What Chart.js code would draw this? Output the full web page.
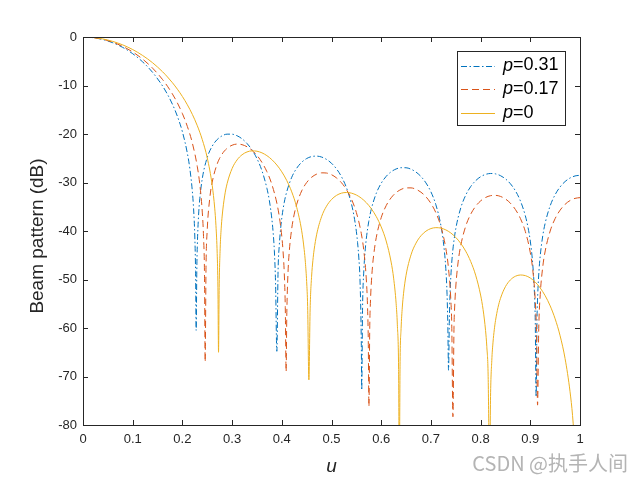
<!DOCTYPE html>
<html>
<head>
<meta charset="utf-8">
<title>Beam pattern</title>
<script src="https://cdn.jsdelivr.net/npm/chart.js@4.4.1/dist/chart.umd.min.js"></script>
<style>
  html, body { margin: 0; padding: 0; background: #fff; }
  #wrap { width: 642px; height: 481px; }
</style>
</head>
<body>
<div id="wrap"><canvas id="beamChart" width="642" height="481"></canvas></div>
<script>
// u positions shared by the three curves
const uGrid = [0, 0.02, 0.04, 0.06, 0.08, 0.10, 0.12, 0.14, 0.16,
  0.17, 0.18, 0.19, 0.20,
  0.21, 0.22, 0.23, 0.24, 0.25, 0.26, 0.27, 0.28, 0.29, 0.30,
  0.31, 0.32, 0.33, 0.34, 0.35, 0.36, 0.37, 0.38, 0.39, 0.40,
  0.41, 0.42, 0.43, 0.44, 0.45, 0.46, 0.47, 0.48, 0.49, 0.50,
  0.51, 0.52, 0.53, 0.54, 0.55, 0.56, 0.57, 0.58, 0.59, 0.60,
  0.61, 0.62, 0.63, 0.64, 0.65, 0.66, 0.67, 0.68, 0.69, 0.70,
  0.71, 0.72, 0.73, 0.74, 0.75, 0.76, 0.77, 0.78, 0.79, 0.80,
  0.81, 0.82, 0.83, 0.84, 0.85, 0.86, 0.87, 0.88, 0.89, 0.90,
  0.91, 0.92, 0.93, 0.94, 0.95, 0.96, 0.97, 0.98, 0.99, 1.00];

// p = 0.31
const db031 = [0, -0.13, -0.52, -1.19, -2.15, -3.45, -5.13, -7.29, -10.09,
  -11.83, -13.88, -16.37, -19.54,
  -23.99, -31.82, -43.05, -29.19, -24.84, -22.51, -21.14, -20.37, -20.03, -20.04,
  -20.36, -20.99, -21.95, -23.27, -25.07, -27.55, -31.17, -37.52, -64.8, -37.32,
  -31.89, -28.92, -27.05, -25.83, -25.06, -24.65, -24.56, -24.75, -25.24, -26.03,
  -27.19, -28.79, -31.04, -34.36, -40.07, -63.27, -41.63, -35.53, -32.26, -30.16,
  -28.74, -27.79, -27.21, -26.95, -26.96, -27.26, -27.85, -28.76, -30.08, -31.92,
  -34.59, -38.79, -47.76, -49.59, -39.57, -35.26, -32.63, -30.85, -29.63, -28.81,
  -28.33, -28.14, -28.22, -28.59, -29.25, -30.26, -31.71, -33.78, -36.85, -42.08,
  -58.79, -45.08, -38.35, -34.80, -32.50, -30.91, -29.80, -29.07, -28.65, -28.51];
// extra readings around the nulls
const nearU031 = [0.215, 0.2225, 0.225, 0.2265, 0.2277, 0.229, 0.2325, 0.235,
  0.375, 0.3825, 0.385, 0.3875, 0.3925, 0.395, 0.3975, 0.405,
  0.545, 0.5525, 0.555, 0.5575, 0.5608, 0.5625, 0.565, 0.5675, 0.575,
  0.725, 0.7325, 0.734, 0.7355, 0.737, 0.7385, 0.7425, 0.745,
  0.895, 0.905, 0.9075, 0.9117, 0.9135, 0.915, 0.9175, 0.925];
const nearDb031 = [-27.16, -35.39, -41.24, -48.35, -60.5, -47.96, -36.82, -33.35,
  -33.74, -40.21, -44.07, -51.00, -48.15, -42.86, -39.64, -34.06,
  -36.75, -42.40, -45.56, -50.54, -72.8, -55.88, -48.25, -44.30, -38.01,
  -42.17, -53.08, -59.15, -68.7, -59.04, -53.08, -45.76, -43.14,
  -39.06, -46.92, -50.97, -74.2, -58.23, -53.01, -48.16, -41.03];

// p = 0.17
const db017 = [0, -0.12, -0.47, -1.07, -1.94, -3.08, -4.56, -6.42, -8.76,
  -10.16, -11.76, -13.61, -15.79,
  -18.45, -21.86, -26.74, -36.10, -39.73, -29.92, -26.17, -24.12, -22.94, -22.31,
  -22.08, -22.20, -22.63, -23.36, -24.41, -25.85, -27.77, -30.39, -34.24, -41.12,
  -57.62, -39.48, -34.48, -31.73, -30.01, -28.92, -28.28, -28.01, -28.05, -28.39,
  -29.05, -30.04, -31.45, -33.40, -36.18, -40.55, -49.89, -50.96, -41.38, -37.25,
  -34.77, -33.15, -32.08, -31.43, -31.11, -31.11, -31.40, -32.00, -32.94, -34.31,
  -36.23, -39.04, -43.56, -54.05, -51.58, -43.01, -39.02, -36.56, -34.91, -33.80,
  -33.09, -32.72, -32.65, -32.87, -33.40, -34.27, -35.56, -37.40, -40.10, -44.47,
  -54.42, -53.11, -44.12, -40.00, -37.43, -35.70, -34.50, -33.72, -33.27, -33.12];
const nearU017 = [0.235, 0.2425, 0.2445, 0.2458, 0.2475, 0.255,
  0.395, 0.4025, 0.405, 0.407, 0.4087, 0.4125, 0.415, 0.425,
  0.565, 0.5725, 0.574, 0.5753, 0.577, 0.5785, 0.5825, 0.585,
  0.735, 0.742, 0.7443, 0.7465, 0.748, 0.755,
  0.905, 0.9125, 0.9146, 0.917, 0.925];
const nearDb017 = [-30.37, -41.15, -49.30, -67, -47.46, -33.29,
  -37.05, -44.17, -48.79, -55.74, -69, -48.55, -44.30, -36.53,
  -44.04, -55.58, -62.51, -76.2, -59.52, -54.21, -47.32, -44.82,
  -47.32, -59.61, -78.3, -59.66, -55.26, -46.21,
  -48.08, -61.27, -75.9, -60.12, -47.44];

// p = 0
const db0 = [0, -0.10, -0.40, -0.91, -1.63, -2.59, -3.81, -5.31, -7.16,
  -8.24, -9.43, -10.77, -12.27,
  -13.98, -15.95, -18.29, -21.16, -24.92, -30.61, -44.68, -36.92, -30.21, -27.12,
  -25.34, -24.28, -23.70, -23.48, -23.55, -23.88, -24.46, -25.29, -26.39, -27.80,
  -29.60, -31.93, -35.12, -39.95, -50.43, -49.30, -40.79, -37.06, -34.88, -33.51,
  -32.66, -32.20, -32.06, -32.19, -32.58, -33.23, -34.15, -35.39, -37.01, -39.15,
  -42.06, -46.41, -54.90, -60.14, -49.13, -44.91, -42.50, -40.98, -40.03, -39.50,
  -39.31, -39.40, -39.77, -40.40, -41.32, -42.55, -44.16, -46.27, -49.10, -53.20,
  -60.54, -74.12, -58.48, -53.89, -51.47, -50.08, -49.33, -49.07, -49.20, -49.69,
  -50.54, -51.75, -53.36, -55.44, -58.12, -61.61, -66.31, -73.15, -85.06, null];
const nearU0 = [0.265, 0.2675, 0.2715, 0.2727, 0.274, 0.276, 0.278, 0.285,
  0.445, 0.4475, 0.452, 0.4545, 0.457, 0.4625, 0.465,
  0.625, 0.6325, 0.635, 0.6364, 0.638, 0.6425, 0.645,
  0.805, 0.8125, 0.815, 0.8182, 0.8225, 0.825, 0.8275, 0.835,
  0.985];
const nearDb0 = [-35.28, -38.85, -51.72, -65, -51.62, -43.55, -39.56, -32.77,
  -43.80, -46.53, -55.58, -70.7, -56.06, -46.14, -43.90,
  -49.72, -59.35, -68.55, -90, -66.96, -55.69, -52.84,
  -56.20, -63.85, -69.03, -90, -66.73, -62.92, -60.37, -55.77,
  -78.02];

const pValues = ['0.31', '0.17', '0'];
const xTicks = [0, 0.1, 0.2, 0.3, 0.4, 0.5, 0.6, 0.7, 0.8, 0.9, 1];
const yTicks = [-80, -70, -60, -50, -40, -30, -20, -10, 0];

const axisColor = '#262626';
const fontName = '"Liberation Sans", Arial, Helvetica, sans-serif';

function toPoints(db, nearU, nearDb) {
  const pts = uGrid.map((u, i) => ({ x: u, y: db[i] }));
  nearU.forEach((u, i) => pts.push({ x: u, y: nearDb[i] }));
  return pts.sort((a, b) => a.x - b.x);
}

// box, inward ticks, legend and axis titles the way MATLAB draws them
const matlabAxes = {
  id: 'matlabAxes',
  afterDraw(chart) {
    const { ctx, chartArea: a, scales: { x, y } } = chart;
    ctx.save();
    ctx.strokeStyle = axisColor;
    ctx.lineWidth = 1;
    ctx.setLineDash([]);
    ctx.beginPath();
    xTicks.forEach(v => {
      const px = Math.round(x.getPixelForValue(v)) + 0.5;
      ctx.moveTo(px, a.bottom); ctx.lineTo(px, a.bottom - 5);
      ctx.moveTo(px, a.top); ctx.lineTo(px, a.top + 5);
    });
    yTicks.forEach(v => {
      const py = Math.round(y.getPixelForValue(v)) + 0.5;
      ctx.moveTo(a.left, py); ctx.lineTo(a.left + 5, py);
      ctx.moveTo(a.right, py); ctx.lineTo(a.right - 5, py);
    });
    ctx.stroke();
    ctx.strokeRect(Math.round(a.left) + 0.5, Math.round(a.top) + 0.5,
      Math.round(a.right - a.left), Math.round(a.bottom - a.top));

    // legend
    const lx = 457.5, ly = 51.5, lw = 108, lh = 74;
    ctx.fillStyle = '#fff';
    ctx.fillRect(lx, ly, lw, lh);
    ctx.strokeRect(lx, ly, lw, lh);
    ctx.textBaseline = 'middle';
    ctx.textAlign = 'left';
    chart.data.datasets.forEach((ds, i) => {
      const rowY = 65.5 + i * 23.8;
      ctx.strokeStyle = ds.borderColor;
      ctx.setLineDash(ds.borderDash || []);
      ctx.beginPath();
      ctx.moveTo(461, Math.round(rowY) + 0.5);
      ctx.lineTo(495, Math.round(rowY) + 0.5);
      ctx.stroke();
      ctx.setLineDash([]);
      ctx.fillStyle = '#000';
      ctx.font = 'italic 18px ' + fontName;
      ctx.fillText('p', 503, rowY);
      const w = ctx.measureText('p').width;
      ctx.font = '18px ' + fontName;
      ctx.fillText('=' + pValues[i], 503 + w, rowY);
    });

    // axis titles
    ctx.fillStyle = axisColor;
    ctx.textAlign = 'center';
    ctx.font = '19px ' + fontName;
    ctx.save();
    ctx.translate(38, 236);
    ctx.rotate(-Math.PI / 2);
    ctx.fillText('Beam pattern (dB)', 0, 0);
    ctx.restore();
    ctx.font = 'italic 19px ' + fontName;
    ctx.fillText('u', (a.left + a.right) / 2, 467);

    // watermark
    ctx.fillStyle = '#b4b4b4';
    ctx.textAlign = 'right';
    ctx.font = '20px "Noto Sans CJK SC", ' + fontName;
    ctx.fillText('CSDN @执手人间', 628, 463);
    ctx.restore();
  }
};

new Chart(document.getElementById('beamChart'), {
  type: 'line',
  data: {
    datasets: [
      {
        label: 'p=' + pValues[0],
        data: toPoints(db031, nearU031, nearDb031),
        borderColor: '#0072BD',
        borderDash: [6, 2.5, 1.5, 2.5],
        order: 2
      },
      {
        label: 'p=' + pValues[1],
        data: toPoints(db017, nearU017, nearDb017),
        borderColor: '#D95319',
        borderDash: [7, 4],
        order: 1
      },
      {
        label: 'p=' + pValues[2],
        data: toPoints(db0, nearU0, nearDb0),
        borderColor: '#EDB120',
        order: 0
      }
    ]
  },
  options: {
    responsive: false,
    animation: false,
    devicePixelRatio: 1,
    layout: { padding: { top: 37, right: 62, left: 0, bottom: 0 } },
    elements: {
      point: { radius: 0 },
      line: { borderWidth: 1, fill: false, cubicInterpolationMode: 'monotone' }
    },
    plugins: { legend: { display: false }, tooltip: { enabled: false } },
    scales: {
      x: {
        type: 'linear',
        min: 0,
        max: 1,
        grid: { display: false, drawTicks: false },
        border: { display: false },
        afterBuildTicks: s => { s.ticks = xTicks.map(v => ({ value: v })); },
        afterFit: s => { s.height = 56; },
        ticks: {
          autoSkip: false,
          maxRotation: 0,
          padding: 7,
          color: axisColor,
          font: { family: fontName, size: 13 },
          callback: v => String(v)
        }
      },
      y: {
        min: -80,
        max: 0,
        grid: { display: false, drawTicks: false },
        border: { display: false },
        afterBuildTicks: s => { s.ticks = yTicks.map(v => ({ value: v })); },
        afterFit: s => { s.width = 83; },
        ticks: {
          autoSkip: false,
          padding: 6,
          color: axisColor,
          font: { family: fontName, size: 13 },
          callback: v => String(v)
        }
      }
    }
  },
  plugins: [matlabAxes]
});
</script>
</body>
</html>
